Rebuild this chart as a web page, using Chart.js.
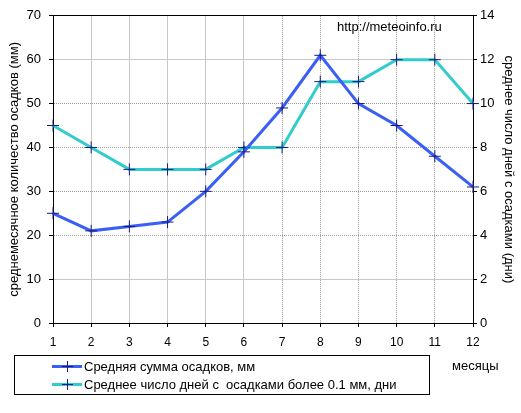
<!DOCTYPE html>
<html>
<head>
<meta charset="utf-8">
<script src="https://cdn.jsdelivr.net/npm/chart.js@4.4.1/dist/chart.umd.min.js"></script>
<style>
  html, body { margin: 0; padding: 0; background: #fff; }
  #wrap { position: relative; width: 521px; height: 413px; font-family: 'Liberation Sans', Arial, sans-serif; font-size: 13px; color: #000; }
  #chart { position: absolute; left: 0; top: 0; }
  .note { position: absolute; white-space: pre; line-height: 15px; }
  #legend { position: absolute; left: 14px; top: 355px; width: 414px; height: 38px; border: 1px solid #000; }
  .row { position: absolute; left: 0; height: 15px; white-space: pre; }
  .swatch { position: absolute; left: 37px; top: 6px; width: 30px; height: 3px; }
  .plus { position: absolute; left: 47px; top: 2px; width: 11px; height: 11px; }
  .plus:before { content: ''; position: absolute; left: 0; top: 5px; width: 11px; height: 1px; background: #1a1a80; }
  .plus:after { content: ''; position: absolute; left: 5px; top: 0; width: 1px; height: 11px; background: #1a1a80; }
  .row span { position: absolute; left: 69px; top: 0; line-height: 15px; }
</style>
</head>
<body>
<div id="wrap">
  <canvas id="chart" width="521" height="413"></canvas>
  <div class="note" style="left:337px; top:19px;">http://meteoinfo.ru</div>
  <div class="note" style="left:452px; top:358px;">месяцы</div>
  <div id="legend">
    <div class="row" style="top:3px; width:414px;"><div class="swatch" style="background:#3a5ff5"></div><div class="plus"></div><span>Средняя сумма осадков, мм</span></div>
    <div class="row" style="top:21px; width:414px;"><div class="swatch" style="background:#33cccc"></div><div class="plus"></div><span>Среднее число дней с  осадками более 0.1 мм, дни</span></div>
  </div>
</div>
<script>
// Months
const months = ['1', '2', '3', '4', '5', '6', '7', '8', '9', '10', '11', '12'];

// Average monthly precipitation, mm (left axis)
const precipMm = [25, 21, 22, 23, 30, 39, 49, 61, 50, 45, 38, 31];

// Average number of days with precipitation > 0.1 mm (right axis)
const rainDays = [9, 8, 7, 7, 7, 8, 8, 11, 11, 12, 12, 10];

const seriesNames = ['Средняя сумма осадков, мм', 'Среднее число дней с  осадками более 0.1 мм, дни'];

const FONT = { family: "'Liberation Sans', Arial, sans-serif", size: 12 };
const FONT_Y = { family: "'Liberation Sans', Arial, sans-serif", size: 13 };
const FONT_TITLE = { family: "'Liberation Sans', Arial, sans-serif", size: 13 };
const MARKER = '#1a1a80';

/**
 * Grid style for vertical lines (x axis)
 */
function xGridColor(ctx) {
    const i = ctx.index;
    if (i === undefined) return '#000';
    if (i === 0 || i === months.length - 1) return 'rgba(0,0,0,0)';
    return i <= 5 ? '#c8c8c8' : '#999999';
}

function xGridDash(ctx) {
    const i = ctx.index;
    if (i === undefined) return [];
    return i <= 5 ? [] : [1, 1];
}

/**
 * Grid style for horizontal lines (left y axis)
 */
function yGridColor(ctx) {
    if (!ctx.tick) return '#000';
    const v = ctx.tick.value;
    if (v === 70) return '#000';
    if (v === 0) return 'rgba(0,0,0,0)';
    if (v === 60 || v === 10) return '#c8c8c8';
    return '#999999';
}

function yGridDash(ctx) {
    if (!ctx.tick) return [];
    const v = ctx.tick.value;
    if (v === 70 || v === 60 || v === 10) return [];
    return [1, 1];
}

const ctx = document.getElementById('chart').getContext('2d');
new Chart(ctx, {
    type: 'line',
    data: {
        labels: months,
        datasets: [{
            label: seriesNames[0],
            data: precipMm,
            yAxisID: 'y',
            borderColor: '#3a5ff5',
            backgroundColor: '#3a5ff5',
            borderWidth: 3,
            tension: 0,
            pointStyle: 'cross',
            pointRadius: 6,
            pointBorderWidth: 1,
            pointBorderColor: MARKER
        }, {
            label: seriesNames[1],
            data: rainDays,
            yAxisID: 'y2',
            borderColor: '#33cccc',
            backgroundColor: '#33cccc',
            borderWidth: 3,
            tension: 0,
            pointStyle: 'cross',
            pointRadius: 6,
            pointBorderWidth: 1,
            pointBorderColor: MARKER
        }]
    },
    options: {
        responsive: false,
        animation: false,
        layout: { padding: { top: 13, left: 0, right: 0, bottom: 0 } },
        plugins: {
            legend: { display: false },
            tooltip: { enabled: false }
        },
        scales: {
            x: {
                type: 'category',
                offset: false,
                grid: {
                    offset: false,
                    color: xGridColor,
                    tickColor: '#000',
                    tickLength: 4,
                    lineWidth: 1
                },
                border: { display: true, color: '#000', width: 1, dash: xGridDash },
                ticks: { color: '#000', font: FONT, padding: 8, maxRotation: 0, autoSkip: false },
                afterFit: function(scale) { scale.height = 90; }
            },
            y: {
                position: 'left',
                min: 0,
                max: 70,
                ticks: { stepSize: 10, color: '#000', font: FONT_Y, padding: 8 },
                grid: {
                    color: yGridColor,
                    tickColor: '#000',
                    tickLength: 4
                },
                border: { display: true, color: '#000', width: 1, dash: yGridDash },
                title: {
                    display: true,
                    text: 'среднемесячное количество осадков (мм)',
                    color: '#000',
                    font: FONT_TITLE,
                    padding: { top: 7, bottom: 0 }
                },
                afterFit: function(scale) { scale.width = 53; }
            },
            y2: {
                position: 'right',
                min: 0,
                max: 14,
                ticks: { stepSize: 2, color: '#000', font: FONT_Y, padding: 3 },
                grid: {
                    drawOnChartArea: false,
                    tickColor: '#000',
                    tickLength: 4
                },
                border: { display: true, color: '#000', width: 1 },
                title: {
                    display: true,
                    text: 'среднее число дней с осадками (дни)',
                    color: '#000',
                    font: FONT_TITLE,
                    padding: { top: 5, bottom: 0 }
                },
                afterFit: function(scale) { scale.width = 48; }
            }
        }
    }
});
</script>
</body>
</html>
